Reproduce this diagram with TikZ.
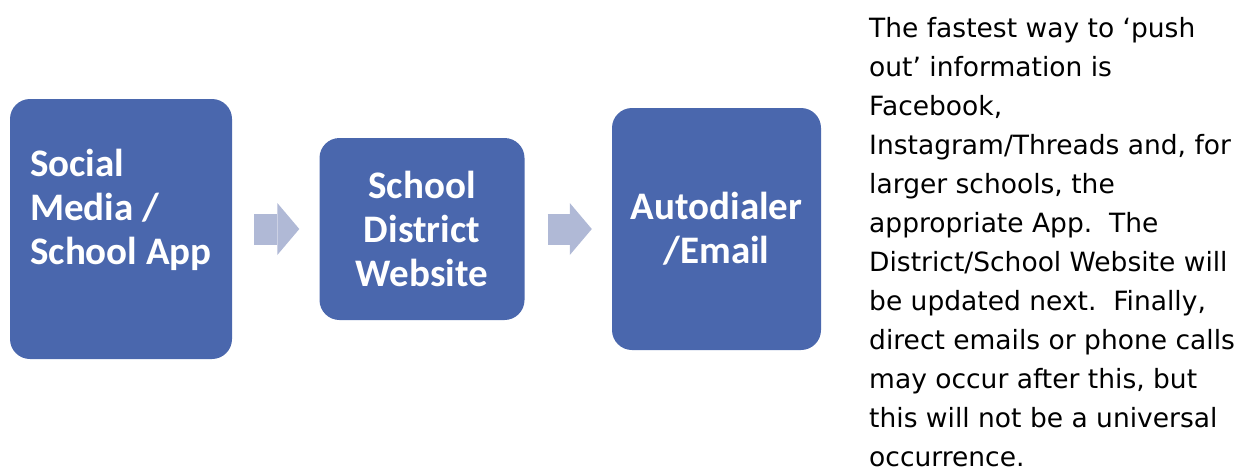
\documentclass[tikz,border=0pt]{standalone}
\usepackage{fontspec}
\usetikzlibrary{arrows.meta}
\newfontfamily\boxfont{Carlito}
\newfontfamily\notefont{DejaVu Sans}
\definecolor{stepblue}{RGB}{74,103,173}
\definecolor{arrowgrey}{RGB}{176,185,214}

\begin{document}
\begin{tikzpicture}[x=1pt,y=-1pt,
  stepbox/.style = {fill=stepblue,rounded corners=20pt,inner sep=0pt,text=white,align=center,font=\boxfont\bfseries\fontsize{39}{44}\selectfont},
  push/.style = {draw=arrowgrey,line width=31pt,-{Triangle[length=22pt,width=52pt,line width=0pt]}}]
			\useasboundingbox (0,0) rectangle (1238,469);
			\node (social)  at (121, 229) [stepbox,minimum width=222pt,minimum height=260pt,align=left]  {Social\\Media /\\School App\\\mbox{}};
			\node (website) at (422, 229) [stepbox,minimum width=205pt,minimum height=182pt]  {School\\District\\Website};
			\node (dialer)  at (716.5, 229) [stepbox,minimum width=209pt,minimum height=242pt]  {Autodialer\\/Email};
			\draw      [push,shorten <=22pt,shorten >=20pt] (social) -- (website);
			\draw      [push,shorten <=23pt,shorten >=20pt] (website) -- (dialer);
			\node (note) at (869, 17) [anchor=north west,align=left,inner sep=0pt,font=\notefont\fontsize{26.5}{39}\selectfont]
				{The fastest way to ‘push\\out’ information is\\Facebook,\\Instagram/Threads and, for\\larger schools, the\\appropriate App.~~The\\District/School Website will\\be updated next.~~Finally,\\direct emails or phone calls\\may occur after this, but\\this will not be a universal\\occurrence.};
		\end{tikzpicture}
\end{document}
